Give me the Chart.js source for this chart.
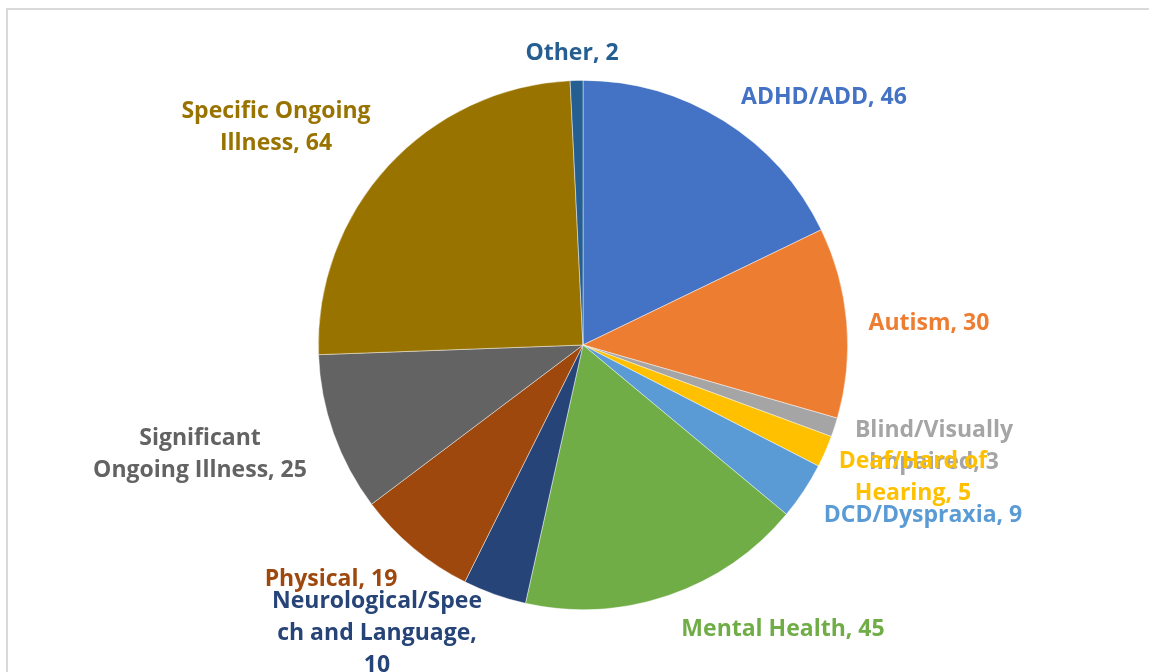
<!DOCTYPE html>
<html>
<head>
<meta charset="utf-8">
<script src="https://cdn.jsdelivr.net/npm/chart.js@4.4.0/dist/chart.umd.min.js"></script>
<style>
    html, body { margin: 0; padding: 0; background: #fff; overflow: hidden; }
    #frame {
        position: absolute; left: 6px; top: 8px;
        width: 1200px; height: 700px;
        border: 2px solid #d9d9d9;
    }
    #pieChart { position: absolute; left: 0; top: 0; }
</style>
</head>
<body>
<div id="frame"></div>
<canvas id="pieChart" width="1149" height="672"></canvas>
<script>
/****************************** Data ********************************/
const categories = [
    "ADHD/ADD", "Autism", "Blind/Visually Impaired", "Deaf/Hard of Hearing",
    "DCD/Dyspraxia", "Mental Health", "Neurological/Speech and Language",
    "Physical", "Significant Ongoing Illness", "Specific Ongoing Illness", "Other"
];
const counts = [46, 30, 3, 5, 9, 45, 10, 19, 25, 64, 2];
const sliceColors = [
    "#4472C4", "#ED7D31", "#A5A5A5", "#FFC000", "#5B9BD5", "#70AD47",
    "#264478", "#9E480E", "#636363", "#997300", "#255E91"
];

/****************************** Label layout ********************************/
// where each "name, value" text wraps (character index) and where the block sits
// relative to the pie centre
const labelBreaks = [[], [], [14], [12], [], [], [17, 33], [], [11], [16], []];
const labelOffsets = [
    [241, -250], [346, -24], [351, 99], [330, 130], [340, 168], [200, 282],
    [-206, 286], [-252, 232], [-383, 107], [-307, -220], [-11, -294]
];
const lineHeight = 32;

function wrapLabel(text, breaks) {
    const lines = [];
    let start = 0;
    breaks.forEach(function (b) {
        lines.push(text.slice(start, b).trim());
        start = b;
    });
    lines.push(text.slice(start).trim());
    return lines;
}

const outsideLabels = {
    id: "outsideLabels",
    afterDatasetsDraw(chart) {
        const ctx = chart.ctx;
        const arcs = chart.getDatasetMeta(0).data;
        ctx.save();
        ctx.font = "bold 23px 'Open Sans'";
        ctx.textAlign = "center";
        ctx.textBaseline = "middle";
        arcs.forEach(function (arc, i) {
            const text = chart.data.labels[i] + ", " + chart.data.datasets[0].data[i];
            const lines = wrapLabel(text, labelBreaks[i]);
            const cx = arc.x + labelOffsets[i][0];
            const cy = arc.y + labelOffsets[i][1] + 2;
            ctx.fillStyle = sliceColors[i];
            lines.forEach(function (line, k) {
                ctx.fillText(line, cx, cy + (k - (lines.length - 1) / 2) * lineHeight);
            });
        });
        ctx.restore();
    }
};

/****************************** Pie Chart ********************************/
new Chart("pieChart", {
    type: "pie",
    data: {
        labels: categories,
        datasets: [{
            data: counts,
            backgroundColor: sliceColors,
            borderColor: "rgba(255,255,255,0.6)",
            borderWidth: 0.75
        }]
    },
    options: {
        responsive: false,
        animation: false,
        layout: { padding: { left: 318, right: 301, top: 80, bottom: 62 } },
        plugins: {
            legend: { display: false },
            tooltip: { enabled: false }
        }
    },
    plugins: [outsideLabels]
});
</script>
</body>
</html>
